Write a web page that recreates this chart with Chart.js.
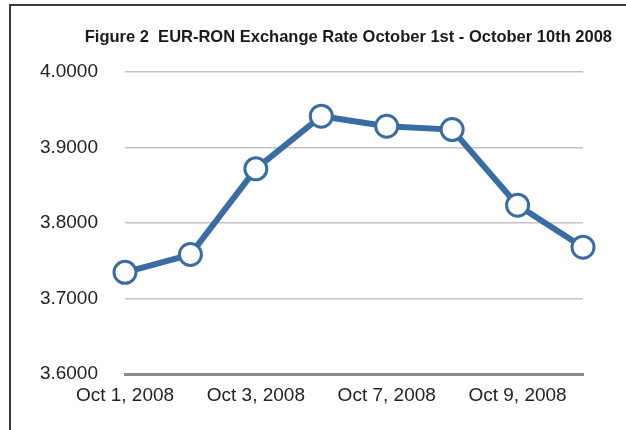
<!DOCTYPE html>
<html>
<head>
<meta charset="utf-8">
<script src="https://cdn.jsdelivr.net/npm/chart.js@4"></script>
<style>
  body { margin: 0; background: #fff; }
  #wrap { position: relative; width: 626px; height: 430px; }
  #frame { position: absolute; left: 9px; top: 4px; right: -5px; bottom: -5px;
           border-left: 2px solid #3a3a3a; border-top: 2px solid #3a3a3a; pointer-events: none; }
</style>
</head>
<body>
<div id="wrap">
  <canvas id="rateCanvas" width="626" height="430"></canvas>
  <div id="frame"></div>
</div>
<script>
const dates = ["Oct 1, 2008", "Oct 2, 2008", "Oct 3, 2008", "Oct 6, 2008", "Oct 7, 2008", "Oct 8, 2008", "Oct 9, 2008", "Oct 10, 2008"];
const rates = [3.7347, 3.7583, 3.8716, 3.9413, 3.9280, 3.9236, 3.8236, 3.7680];
const yTicks = [3.6, 3.7, 3.8, 3.9, 4.0];

const font = "'Liberation Sans', Arial, Helvetica, sans-serif";
const blue = "#3a6ca4";

const rateCanvas = document.getElementById("rateCanvas");

const rateChart = new Chart(rateCanvas, {
    type: "line",
    data: {
        labels: dates,
        datasets: [{
            data: rates,
            borderColor: blue,
            borderWidth: 6,
            backgroundColor: "#ffffff",
            pointBackgroundColor: "#ffffff",
            pointBorderColor: blue,
            pointBorderWidth: 3,
            pointRadius: 11,
            tension: 0
        }]
    },
    options: {
        responsive: false,
        animation: false,
        layout: {
            // title box ends at 612, plot area 125..583
            padding: { top: 0, left: 0, right: 14, bottom: 13 }
        },
        plugins: {
            legend: { display: false },
            tooltip: { enabled: false },
            title: {
                display: true,
                align: "end",
                text: "Figure 2  EUR-RON Exchange Rate October 1st - October 10th 2008",
                color: "#1a1a1a",
                font: { family: font, size: 16.5, weight: "bold" },
                padding: { top: 28, bottom: 24 }
            }
        },
        scales: {
            x: {
                offset: false,
                grid: { display: false, drawTicks: false },
                border: { display: true, color: "#8a8a8a", width: 3 },
                ticks: {
                    autoSkip: false,
                    maxRotation: 0,
                    padding: 10,
                    color: "#222",
                    font: { family: font, size: 19 },
                    callback: function (value, index) {
                        return index % 2 === 0 ? dates[index] : "";
                    }
                }
            },
            y: {
                min: yTicks[0],
                max: yTicks[yTicks.length - 1],
                afterFit: function (scale) { scale.width = 125; },
                afterBuildTicks: function (scale) {
                    scale.ticks = yTicks.map(v => ({ value: v }));
                },
                grid: { color: "#c4c4c4", lineWidth: 1.5, drawTicks: false },
                border: { display: false },
                ticks: {
                    padding: 27,
                    color: "#222",
                    font: { family: font, size: 19 },
                    callback: function (value) { return Number(value).toFixed(4); }
                }
            },
            // empty spacer on the right so the plot ends at the last point
            spacer: {
                position: "right",
                afterFit: function (scale) { scale.width = 29; },
                grid: { display: false, drawTicks: false },
                border: { display: false },
                ticks: { display: false }
            }
        }
    }
});
</script>
</body>
</html>
